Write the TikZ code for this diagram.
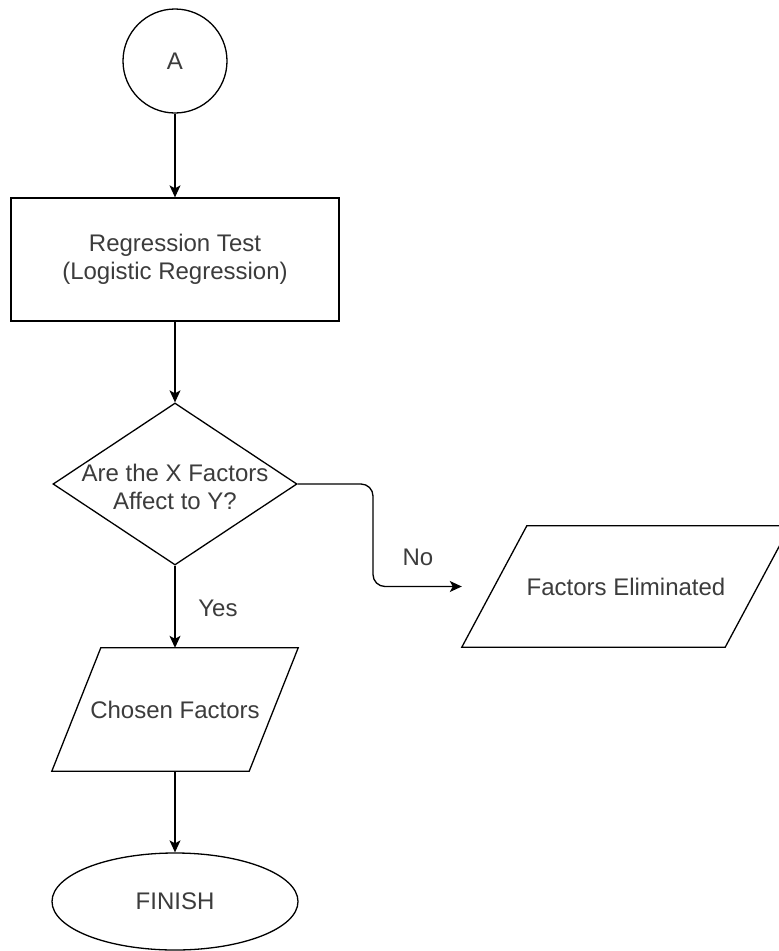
\documentclass[tikz,border=0pt]{standalone}
\usepackage{fontspec}
\setmainfont{Liberation Sans}
\usetikzlibrary{shapes.geometric,arrows.meta}
\definecolor{txtgray}{RGB}{60,60,60}
\tikzset{
  shapeline/.style={draw=black, line width=1.3pt, inner sep=0pt, text=txtgray, font=\fontsize{24}{28}\selectfont},
  outline/.style={draw=black, line width=1.3pt, line join=miter},
  txt/.style={text=txtgray, font=\fontsize{24}{28}\selectfont, inner sep=0pt, align=center},
  conn/.style={draw=black, line width=1.3pt, -{Stealth[length=12pt,width=11pt,inset=3pt]}},
}
\begin{document}
\begin{tikzpicture}[x=1pt,y=1pt]
\useasboundingbox (0,0) rectangle (779,-951);
\fill[white] (0,0) rectangle (779,-951);

\node[shapeline, circle, minimum size=104pt] (A) at (175,-61) {A};
\node[shapeline, rectangle, minimum width=328pt, minimum height=123pt, align=center] (reg) at (175,-259.5)
  {Regression Test\\(Logistic Regression)};
\node[shapeline, diamond, minimum width=244pt, minimum height=162pt, shape aspect=1.5] (dec) at (175,-484) {};
\node[txt] (dectext) at (175,-487) {Are the X Factors\\Affect to Y?};

\node[txt, minimum width=246pt, minimum height=123pt] (chosen) at (175,-709.5) {Chosen Factors};
\draw[outline] (chosen.south west) -- ([xshift=49pt]chosen.north west) -- (chosen.north east)
  -- ([xshift=-49pt]chosen.south east) -- cycle;

\node[txt, minimum width=328pt, minimum height=121pt] (elim) at (626,-586.5) {Factors Eliminated};
\draw[outline] (elim.south west) -- ([xshift=65pt]elim.north west) -- (elim.north east)
  -- ([xshift=-65pt]elim.south east) -- cycle;

\node[shapeline, ellipse, minimum width=246pt, minimum height=97pt] (finish) at (175,-901.5) {FINISH};

\coordinate (elimW) at (elim.west);
\coordinate (bend) at (373,-484);

\draw[conn] (A.south) -- (reg.north);
\draw[conn] (reg.south) -- (dec.north);
\draw[conn] (dec.south) -- (chosen.north);
\draw[conn] (chosen.south) -- (finish.north);
\draw[conn, rounded corners=12pt] (dec.east) -- (bend) |- (elimW);

\node[txt] (yes) at (218,-608) {Yes};
\node[txt] (no) at (418,-557) {No};
\end{tikzpicture}
\end{document}
